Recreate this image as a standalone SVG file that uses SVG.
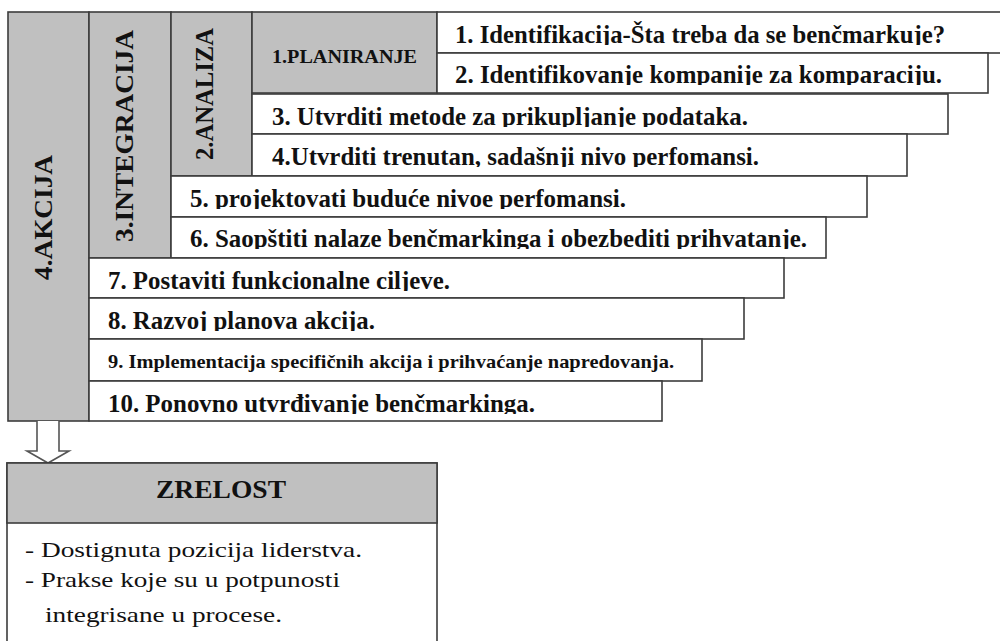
<svg xmlns="http://www.w3.org/2000/svg" width="1000" height="641" viewBox="0 0 1000 641">
<style>
.g{fill:#c0c0c0;stroke:#3c3c3c;stroke-width:1.6}
.w{fill:#ffffff;stroke:#3c3c3c;stroke-width:1.6}
.t{font-family:"Liberation Serif","Times New Roman",serif;font-weight:bold;font-size:25px;fill:#111}
.s{font-family:"Liberation Serif","Times New Roman",serif;font-weight:bold;font-size:19px;fill:#111}
.v{font-family:"Liberation Serif","Times New Roman",serif;font-weight:bold;font-size:25px;fill:#111}
.b{font-family:"Liberation Serif","Times New Roman",serif;font-size:22px;fill:#111}
</style>
<defs>
<clipPath id="c1"><rect x="437" y="12" width="563" height="33"/></clipPath>
<clipPath id="c2"><rect x="437" y="53" width="563" height="32"/></clipPath>
<clipPath id="c3"><rect x="252" y="94" width="748" height="33"/></clipPath>
<clipPath id="c4"><rect x="252" y="134" width="748" height="33"/></clipPath>
<clipPath id="c5"><rect x="171" y="176" width="829" height="33"/></clipPath>
<clipPath id="c6"><rect x="171" y="217" width="829" height="32"/></clipPath>
<clipPath id="c7"><rect x="89" y="258" width="911" height="33"/></clipPath>
<clipPath id="c8"><rect x="89" y="298" width="911" height="33"/></clipPath>
<clipPath id="c10"><rect x="89" y="381" width="911" height="33"/></clipPath>
</defs>
<rect width="1000" height="641" fill="#ffffff"/>

<g id="akcija">
<rect class="g" x="8" y="12" width="81" height="409"/>
<text class="v" transform="translate(52,280) rotate(-90)" textLength="125" lengthAdjust="spacingAndGlyphs">4.AKCIJA</text>
</g>
<g id="integracija">
<rect class="g" x="89" y="12" width="82" height="246"/>
<text class="v" transform="translate(133,242) rotate(-90)" textLength="212" lengthAdjust="spacingAndGlyphs">3.INTEGRACIJA</text>
</g>
<g id="analiza">
<rect class="g" x="171" y="12" width="81" height="164"/>
<text class="v" transform="translate(213,160) rotate(-90)" textLength="132" lengthAdjust="spacingAndGlyphs">2.ANALIZA</text>
</g>
<g id="planiranje">
<rect class="g" x="252" y="12" width="185" height="81"/>
<text class="s" x="272" y="63" textLength="145" lengthAdjust="spacingAndGlyphs">1.PLANIRANJE</text>
</g>

<g id="step1">
<rect class="w" x="437" y="12" width="570" height="41"/>
<text class="t" x="455" y="43" textLength="490" lengthAdjust="spacingAndGlyphs" clip-path="url(#c1)">1. Identifikacija-Šta treba da se benčmarkuje?</text>
</g>
<g id="step2">
<rect class="w" x="437" y="53" width="551" height="40"/>
<text class="t" x="455" y="83" textLength="487" lengthAdjust="spacingAndGlyphs" clip-path="url(#c2)">2. Identifikovanje kompanije za komparaciju.</text>
</g>
<g id="step3">
<rect class="w" x="252" y="94" width="696" height="40"/>
<text class="t" x="272" y="125" textLength="476" lengthAdjust="spacingAndGlyphs" clip-path="url(#c3)">3. Utvrditi metode za prikupljanje podataka.</text>
</g>
<g id="step4">
<rect class="w" x="252" y="134" width="655" height="42"/>
<text class="t" x="272" y="165" textLength="487" lengthAdjust="spacingAndGlyphs" clip-path="url(#c4)">4.Utvrditi trenutan, sadašnji nivo perfomansi.</text>
</g>
<g id="step5">
<rect class="w" x="171" y="176" width="696" height="41"/>
<text class="t" x="190" y="207" textLength="436" lengthAdjust="spacingAndGlyphs" clip-path="url(#c5)">5. projektovati buduće nivoe perfomansi.</text>
</g>
<g id="step6">
<rect class="w" x="171" y="217" width="655" height="41"/>
<text class="t" x="190" y="247" textLength="617" lengthAdjust="spacingAndGlyphs" clip-path="url(#c6)">6. Saopštiti nalaze benčmarkinga i obezbediti prihvatanje.</text>
</g>
<g id="step7">
<rect class="w" x="89" y="258" width="695" height="40"/>
<text class="t" x="108" y="289" textLength="342" lengthAdjust="spacingAndGlyphs" clip-path="url(#c7)">7. Postaviti funkcionalne ciljeve.</text>
</g>
<g id="step8">
<rect class="w" x="89" y="298" width="655" height="41"/>
<text class="t" x="108" y="329" textLength="267" lengthAdjust="spacingAndGlyphs" clip-path="url(#c8)">8. Razvoj planova akcija.</text>
</g>
<g id="step9">
<rect class="w" x="89" y="339" width="613" height="42"/>
<text class="s" x="108" y="368" textLength="566" lengthAdjust="spacingAndGlyphs">9. Implementacija specifičnih akcija i prihvaćanje napredovanja.</text>
</g>
<g id="step10">
<rect class="w" x="89" y="381" width="573" height="40"/>
<text class="t" x="108" y="412" textLength="427" lengthAdjust="spacingAndGlyphs" clip-path="url(#c10)">10. Ponovno utvrđivanje benčmarkinga.</text>
</g>

<g id="connectors">
<path d="M37,421 V451 H27 L48,463 L69,451 H59 V421" fill="#ffffff" stroke="#555555" stroke-width="1.6" stroke-linejoin="miter"/>
</g>

<g id="zrelost">
<rect class="w" x="7" y="463" width="430" height="190"/>
<rect class="g" x="7" y="463" width="430" height="60"/>
<text class="v" x="156" y="498" font-size="26" textLength="130" lengthAdjust="spacingAndGlyphs">ZRELOST</text>
<text class="b" x="25" y="557" textLength="337" lengthAdjust="spacingAndGlyphs">- Dostignuta pozicija liderstva.</text>
<text class="b" x="25" y="587" textLength="315" lengthAdjust="spacingAndGlyphs">- Prakse koje su u potpunosti</text>
<text class="b" x="45" y="622" textLength="237" lengthAdjust="spacingAndGlyphs">integrisane u procese.</text>
</g>
</svg>
